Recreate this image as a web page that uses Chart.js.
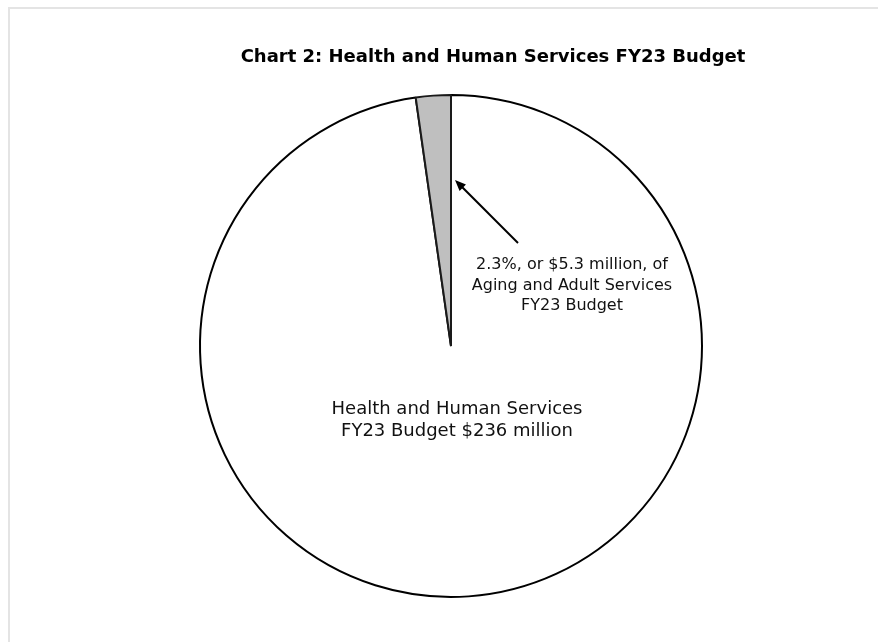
<!DOCTYPE html>
<html>
<head>
<meta charset="utf-8">
<script src="https://cdn.jsdelivr.net/npm/chart.js@4.4.1/dist/chart.umd.min.js"></script>
<style>
  html, body { margin: 0; padding: 0; background: #fff; }
  #wrap { position: relative; width: 878px; height: 642px; overflow: hidden; }
  #frame { position: absolute; left: 8px; top: 7px; right: -10px; bottom: -10px;
           border-top: 2px solid #e4e4e4; border-left: 2px solid #e4e4e4; }
  canvas { position: absolute; left: 0; top: 0; }
</style>
</head>
<body>
<div id="wrap">
  <div id="frame"></div>
  <canvas id="c" width="878" height="642"></canvas>
</div>
<script>
// data
const titleText = 'Chart 2: Health and Human Services FY23 Budget';
const categories = ['Other Health and Human Services', 'Aging and Adult Services'];
const budgetMillions = [230.7, 5.3];
const mainLabel = ['Health and Human Services', 'FY23 Budget $236 million'];
const calloutLabel = ['2.3%, or $5.3 million, of', 'Aging and Adult Services', 'FY23 Budget'];

const FONT = '"DejaVu Sans", Verdana, sans-serif';

// title, inner label, callout text and arrow
const textPlugin = {
  id: 'texts',
  afterDraw(chart) {
    const ctx = chart.ctx;
    const arc = chart.getDatasetMeta(0).data[1];
    const cx = arc.x;
    ctx.save();
    ctx.fillStyle = '#000';
    ctx.textAlign = 'center';
    ctx.textBaseline = 'middle';

    ctx.font = 'bold 18px ' + FONT;
    ctx.fillText(titleText, 493, 57);

    ctx.font = '18px ' + FONT;
    ctx.fillStyle = '#111';
    mainLabel.forEach((t, i) => ctx.fillText(t, cx + 6, 409 + i * 22));

    ctx.font = '16px ' + FONT;
    calloutLabel.forEach((t, i) => ctx.fillText(t, 572, 265 + i * 20.5));

    // arrow pointing at the slice edge
    const x0 = 518, y0 = 243, x1 = 455, y1 = 180;
    const a = Math.atan2(y1 - y0, x1 - x0);
    ctx.fillStyle = '#000';
    ctx.strokeStyle = '#000';
    ctx.lineWidth = 2;
    ctx.beginPath();
    ctx.moveTo(x0, y0);
    ctx.lineTo(x1 - 5 * Math.cos(a), y1 - 5 * Math.sin(a));
    ctx.stroke();
    ctx.beginPath();
    ctx.moveTo(x1, y1);
    ctx.lineTo(x1 - 11 * Math.cos(a) + 4.5 * Math.sin(a), y1 - 11 * Math.sin(a) - 4.5 * Math.cos(a));
    ctx.lineTo(x1 - 11 * Math.cos(a) - 4.5 * Math.sin(a), y1 - 11 * Math.sin(a) + 4.5 * Math.cos(a));
    ctx.closePath();
    ctx.fill();
    ctx.restore();
  }
};

new Chart(document.getElementById('c'), {
  type: 'pie',
  data: {
    labels: categories,
    datasets: [{
      data: budgetMillions,
      backgroundColor: ['#ffffff', '#bfbfbf'],
      borderColor: ['#000000', '#1a1a1a'],
      borderWidth: 2
    }]
  },
  options: {
    responsive: false,
    animation: false,
    rotation: 0,
    layout: { padding: { top: 94, bottom: 44, left: 199, right: 175 } },
    plugins: {
      legend: { display: false },
      title: { display: false },
      tooltip: { enabled: false }
    }
  },
  plugins: [textPlugin]
});
</script>
</body>
</html>
